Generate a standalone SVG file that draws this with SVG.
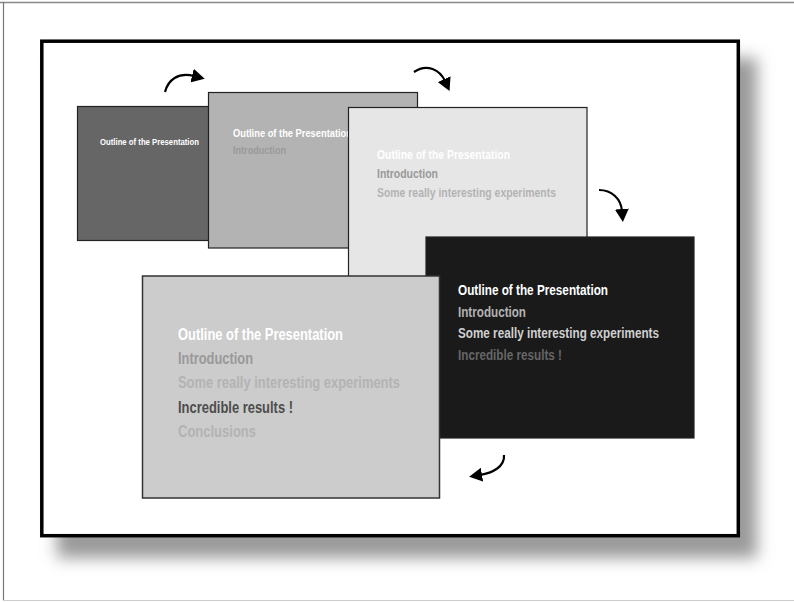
<svg xmlns="http://www.w3.org/2000/svg" width="794" height="602" viewBox="0 0 794 602">
<defs>
<filter id="shadow" x="-10%" y="-10%" width="120%" height="120%">
<feGaussianBlur stdDeviation="8"/>
</filter>
<marker id="ah" markerUnits="userSpaceOnUse" markerWidth="14" markerHeight="14" refX="2" refY="7" orient="auto">
<path d="M0,0 L13,7 L0,14 Z" fill="#000"/>
</marker>
</defs>
<style>
text{font-family:"Liberation Sans",Arial,sans-serif;font-weight:bold}
.slide{stroke:#222;stroke-width:1.2}
.arrow{fill:none;stroke:#000;stroke-width:2.2;marker-end:url(#ah)}
</style>
<rect x="0" y="0" width="794" height="602" fill="#fff"/>
<line x1="0" y1="2.5" x2="794" y2="2.5" stroke="#888" stroke-width="1.5"/>
<line x1="3.5" y1="2" x2="3.5" y2="600" stroke="#777" stroke-width="1.2"/>
<line x1="3" y1="600.5" x2="794" y2="600.5" stroke="#ccc" stroke-width="1.2"/>
<g id="frame">
<rect x="57" y="58" width="700" height="500" fill="#9a9a9a" filter="url(#shadow)"/>
<rect x="41.8" y="41.2" width="696.5" height="494.5" fill="#fff" stroke="#000" stroke-width="3.5"/>
</g>
<g id="slide1">
<rect class="slide" x="77.5" y="106.5" width="140" height="134" fill="#666"/>
<text x="100" y="145" font-size="9.6" fill="#fff" textLength="99" lengthAdjust="spacingAndGlyphs">Outline of the Presentation</text>
</g>
<g id="slide2">
<rect class="slide" x="208.5" y="92.5" width="209" height="155.5" fill="#b3b3b3"/>
<text x="233" y="137" font-size="11" fill="#fff" textLength="119" lengthAdjust="spacingAndGlyphs">Outline of the Presentation</text>
<text x="233" y="153.5" font-size="11" fill="#999" textLength="53" lengthAdjust="spacingAndGlyphs">Introduction</text>
</g>
<g id="slide3">
<rect class="slide" x="348.5" y="107.5" width="238.5" height="180" fill="#e6e6e6"/>
<text x="377" y="159" font-size="12.7" fill="#fff" textLength="133" lengthAdjust="spacingAndGlyphs">Outline of the Presentation</text>
<text x="377" y="178" font-size="12.7" fill="#999" textLength="61" lengthAdjust="spacingAndGlyphs">Introduction</text>
<text x="377" y="197" font-size="12.7" fill="#b3b3b3" textLength="179" lengthAdjust="spacingAndGlyphs">Some really interesting experiments</text>
</g>
<g id="slide4">
<rect class="slide" x="426" y="237" width="268" height="201" fill="#1a1a1a"/>
<text x="458" y="295" font-size="14.3" fill="#fff" textLength="150" lengthAdjust="spacingAndGlyphs">Outline of the Presentation</text>
<text x="458" y="316.5" font-size="14.3" fill="#b3b3b3" textLength="68" lengthAdjust="spacingAndGlyphs">Introduction</text>
<text x="458" y="338" font-size="14.3" fill="#d0d0d0" textLength="201" lengthAdjust="spacingAndGlyphs">Some really interesting experiments</text>
<text x="458" y="360" font-size="14.3" fill="#666" textLength="104" lengthAdjust="spacingAndGlyphs">Incredible results !</text>
</g>
<g id="slide5">
<rect x="142.5" y="276" width="297" height="222" fill="#ccc" stroke="#333" stroke-width="1.5"/>
<text x="178" y="340" font-size="15.8" fill="#fff" textLength="165" lengthAdjust="spacingAndGlyphs">Outline of the Presentation</text>
<text x="178" y="363.5" font-size="15.8" fill="#999" textLength="75" lengthAdjust="spacingAndGlyphs">Introduction</text>
<text x="178" y="388" font-size="15.8" fill="#b3b3b3" textLength="222" lengthAdjust="spacingAndGlyphs">Some really interesting experiments</text>
<text x="178" y="412.5" font-size="15.8" fill="#4d4d4d" textLength="115" lengthAdjust="spacingAndGlyphs">Incredible results !</text>
<text x="178" y="436.5" font-size="15.8" fill="#b3b3b3" textLength="78" lengthAdjust="spacingAndGlyphs">Conclusions</text>
</g>
<g id="connectors">
<path class="arrow" d="M165,92 C168,80 178,72 194,76"/>
<path class="arrow" d="M414,72 C427,63 440,70 445,81"/>
<path class="arrow" d="M599,190 C612,190 621,199 622,211"/>
<path class="arrow" d="M504,455 C505,467 492,473 480,475"/>
</g>
</svg>
